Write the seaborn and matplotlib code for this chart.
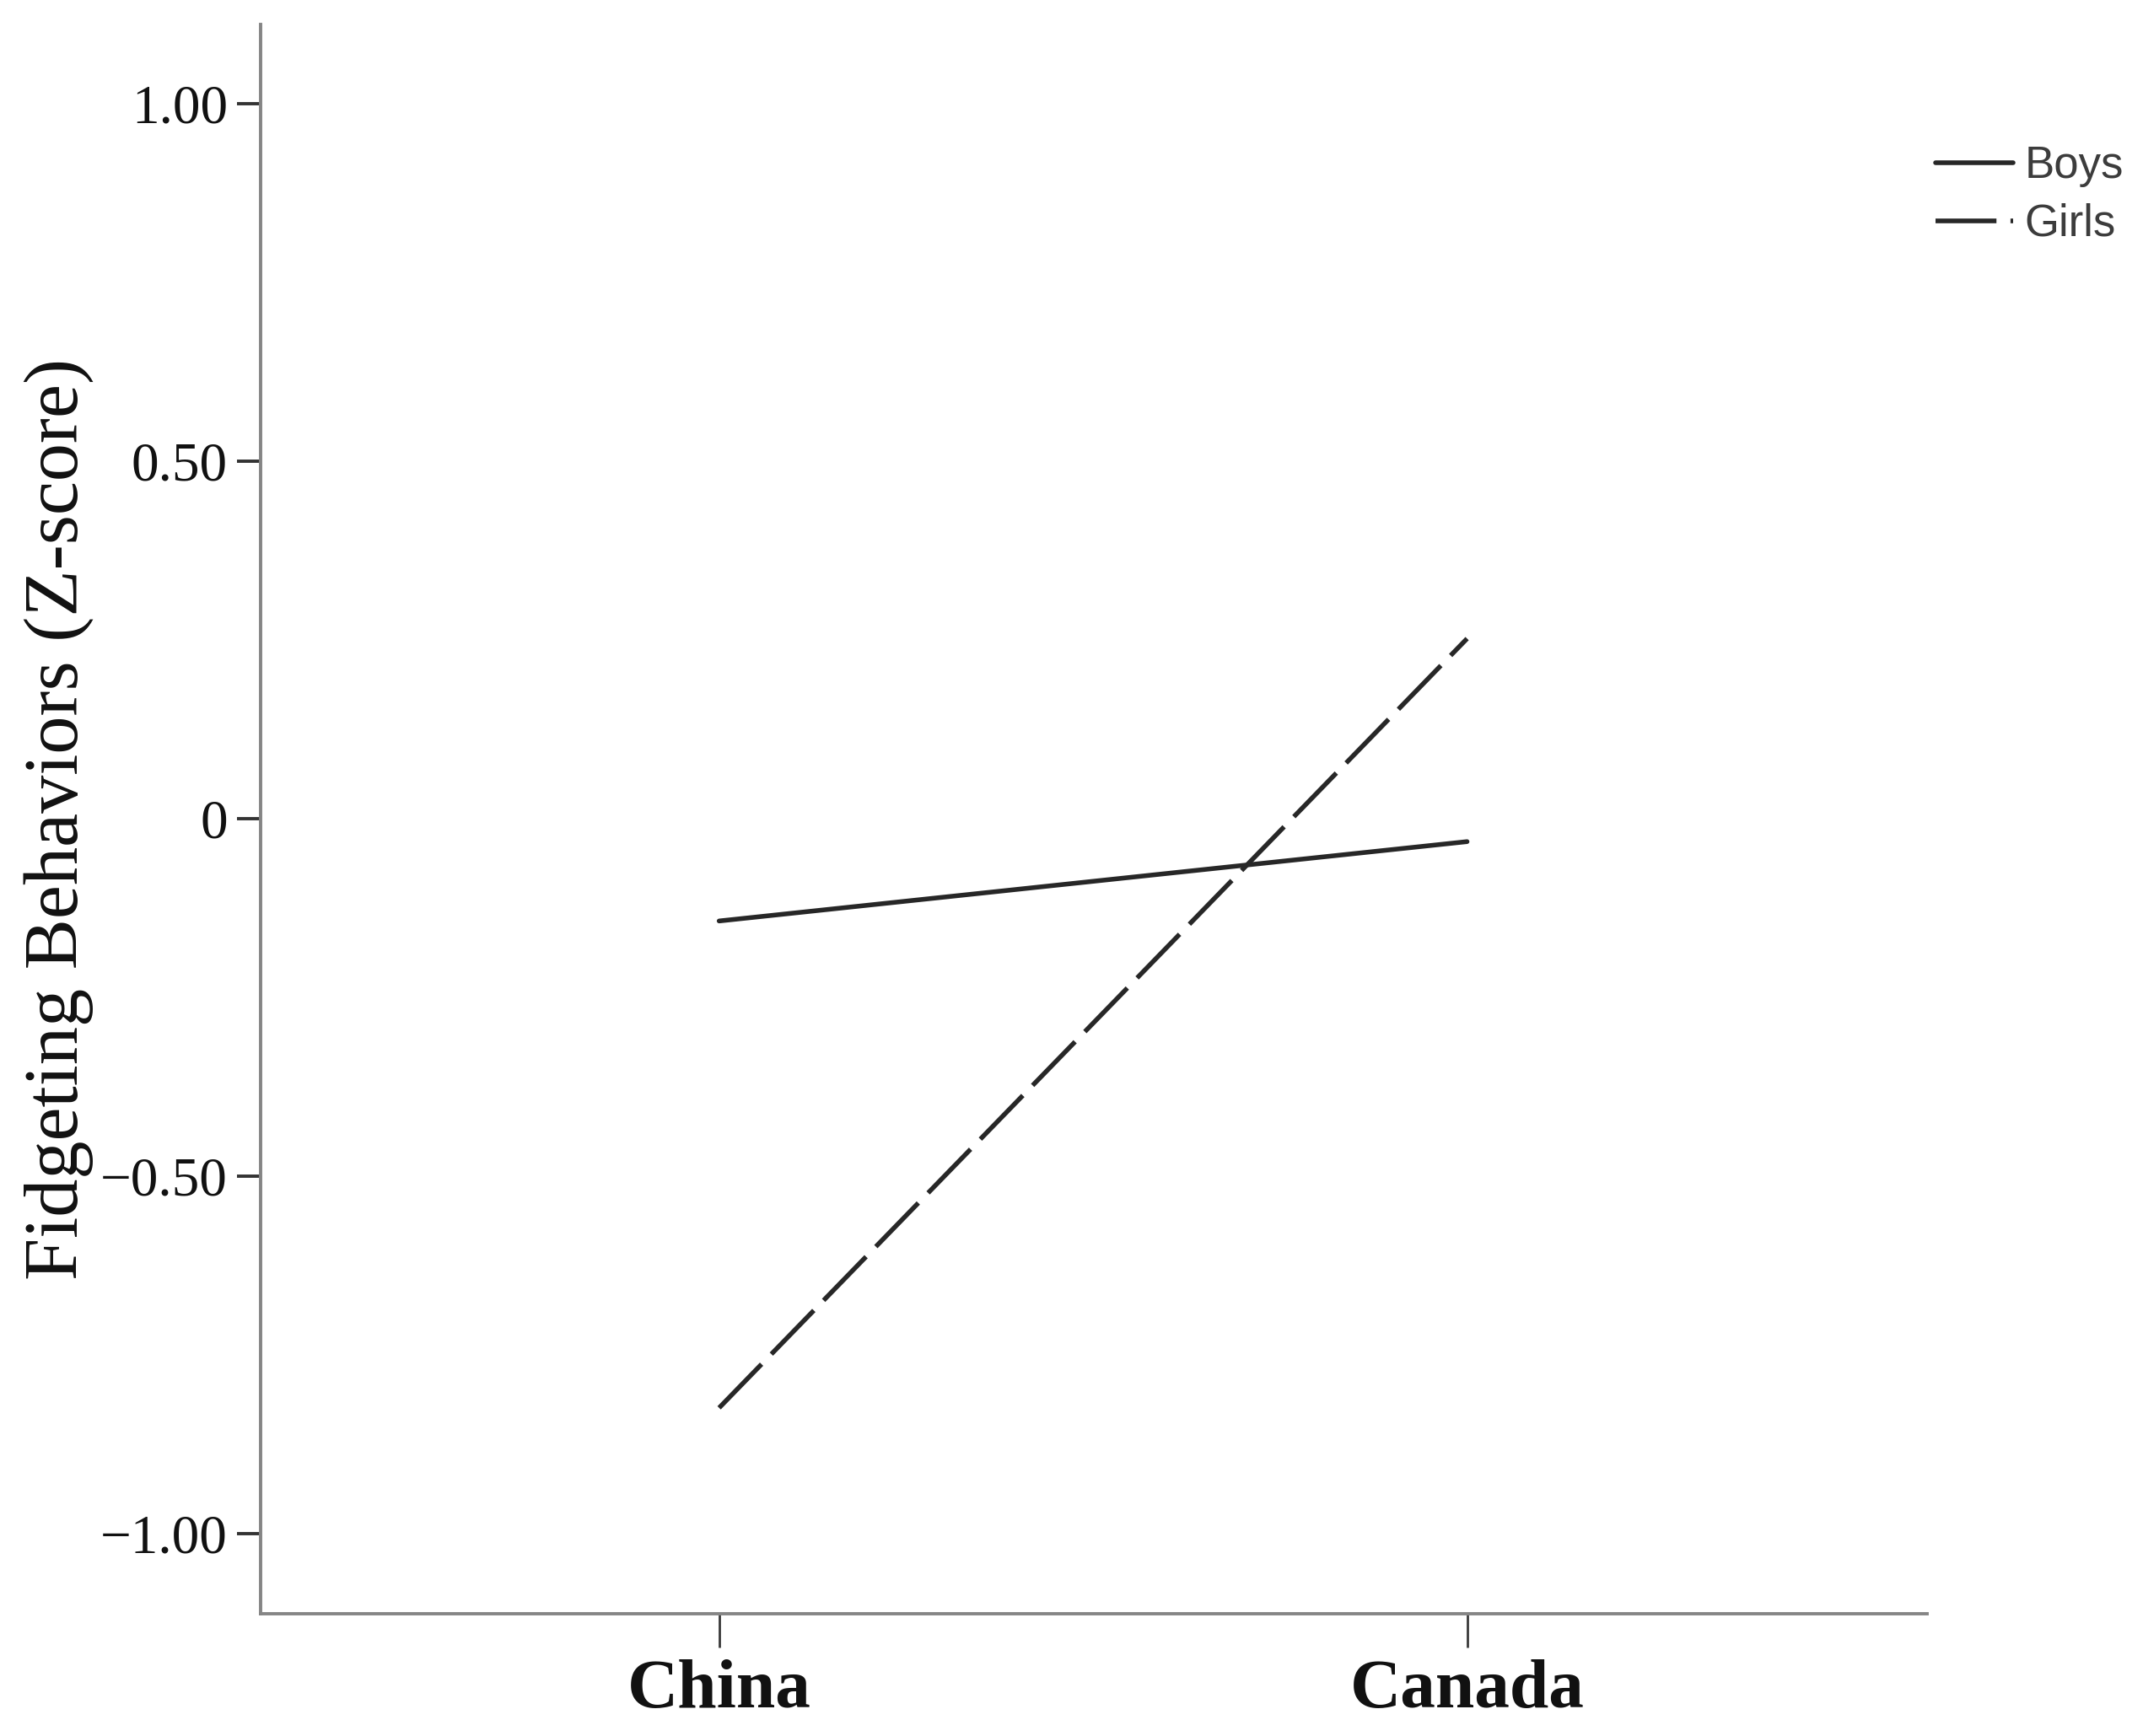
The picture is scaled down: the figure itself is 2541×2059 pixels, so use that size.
import matplotlib
matplotlib.use("Agg")
import matplotlib.pyplot as plt
import seaborn as sns
import pandas as pd

# values (estimated marginal means, z-scores)
countries = ["China", "Canada"]
boys_z = [-0.143, -0.032]
girls_z = [-0.824, 0.252]
groups = ["Boys", "Girls"]
y_ticks = [-1.0, -0.5, 0.0, 0.5, 1.0]
y_tick_labels = ["\u22121.00", "\u22120.50", "0", "0.50", "1.00"]

df = pd.DataFrame({
    "Country": countries * 2,
    "Group": ["Boys"] * len(countries) + ["Girls"] * len(countries),
    "Z": boys_z + girls_z,
})

sns.set_style("ticks")
plt.rcParams["font.family"] = ["Liberation Serif", "DejaVu Serif"]

fig = plt.figure(figsize=(25.41, 20.59), dpi=100)
ax = fig.add_axes([309 / 2541, 1 - 1914 / 2059, (2285 - 309) / 2541, (1914 - 29) / 2059])

line_color = "#272727"
sns.lineplot(
    data=df, x="Country", y="Z", hue="Group", style="Group",
    palette={"Boys": line_color, "Girls": line_color},
    dashes={"Boys": "", "Girls": (13, 3.0)},
    linewidth=4.0, sort=False, ax=ax,
)

ax.set_xlim(-0.613, 1.615)
ax.set_ylim(-1.112, 1.111)
ax.set_yticks(y_ticks)
ax.set_yticklabels(y_tick_labels, fontsize=47, color="#111111")
ax.set_xticks(range(len(countries)))
ax.set_xticklabels(countries, fontsize=60, fontweight="bold", color="#111111")
ax.set_xlabel("")
ax.set_ylabel("Fidgeting Behaviors (Z-score)", fontsize=65, color="#111111")
ax.yaxis.set_label_coords(-0.1, 0.5)

for side in ["top", "right"]:
    ax.spines[side].set_visible(False)
for side in ["left", "bottom"]:
    ax.spines[side].set_color("#858585")
    ax.spines[side].set_linewidth(2.8)

ax.tick_params(axis="y", length=20, width=2.8, color="#333333", pad=8)
ax.tick_params(axis="x", length=29, width=2.0, color="#3a3a3a", pad=10)

handles, labels = ax.get_legend_handles_labels()
ax.legend(
    handles, labels, loc="upper left",
    bbox_to_anchor=(2295 / 2541, 1 - 172 / 2059), bbox_transform=fig.transFigure,
    frameon=False, borderpad=0, borderaxespad=0, handlelength=1.75,
    handletextpad=0.25, labelspacing=0.36,
    prop={"family": "Liberation Sans", "size": 38},
    labelcolor="#3c3c3c",
)

fig.savefig("out.png", dpi=100, facecolor="white")
plt.close(fig)
